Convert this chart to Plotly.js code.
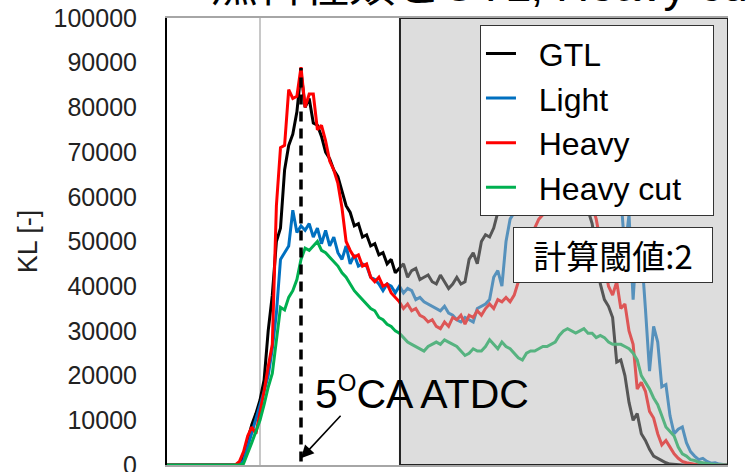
<!DOCTYPE html>
<html>
<head>
<meta charset="utf-8">
<script src="https://cdn.plot.ly/plotly-3.0.1.min.js"></script>
<style>
  html, body { margin: 0; padding: 0; background: #ffffff; }
  #chart { width: 748px; height: 472px; }
</style>
</head>
<body>
<div id="chart"></div>
<script>
// Crank angle [deg ATDC]
const crankAngle = [-12,
  -3, -2.5, -2, -1.5, -1, -0.5, 0, 0.5, 1, 1.5, 2, 2.5, 3, 3.5, 4, 4.5, 5, 5.5, 6, 6.5,
  7, 7.5, 8, 8.5, 9, 9.5, 10, 10.5, 11, 11.5, 12, 12.5, 13, 13.5, 14, 14.5, 15, 15.5, 16, 16.5,
  17, 17.5, 18, 18.5, 19, 19.5, 20, 20.5, 21, 21.5, 22, 22.5, 23, 23.5, 24, 24.5, 25, 25.5, 26, 26.5,
  27, 27.5, 28, 28.5, 29, 29.5, 30, 30.5, 31, 31.5, 32, 32.5, 33, 33.5, 34, 34.5, 35, 35.5, 36, 36.5,
  37, 37.5, 38, 38.5, 39, 39.5, 40, 40.5, 41, 41.5, 42, 42.5, 43, 43.5, 44, 44.5, 45, 45.5, 46, 46.5,
  47, 47.5, 48, 48.5, 49, 49.5, 50, 50.5, 51, 51.5, 52, 52.5, 53, 53.5, 54, 54.5, 55, 55.5, 56, 56.5, 57];

// KL [-] for each fuel
const klGTL = [0,
  0, 500, 1800, 5600, 9000, 11500, 14500, 19000, 30000, 38000, 50000, 53000, 66000, 71500, 74000, 79000, 88000, 80000, 82000, 76500,
  76000, 73500, 70000, 68500, 66000, 64500, 61000, 58000, 56500, 53500, 54000, 51000, 51500, 49000, 49500, 47000, 47500, 45000, 46000, 43000,
  44000, 45000, 42000, 43500, 44000, 41500, 42000, 42500, 41000, 40500, 42500, 41000, 39500, 40500, 42000, 40500, 41000, 46000, 47500, 45000,
  50000, 51500, 51000, 53000, 56500, 58000, 60000, 59000, 62000, 61000, 64000, 63000, 65000, 64000, 66000, 65000, 67000, 66000, 67500, 66000,
  67000, 65500, 66500, 64000, 63000, 60000, 57000, 54000, 48000, 40500, 37000, 35500, 33000, 23000, 23500, 20000, 14000, 10000, 11500, 7000,
  5500, 3500, 2000, 1500, 1000, 500, 200, 100, 0, 0, 0, 0, 0, 0, 0, 0, 0, 0, 0, 0, 0];

const klLight = [0,
  0, 0, 1000, 4000, 7200, 10000, 13000, 16500, 20000, 26000, 34000, 46000, 47500, 49000, 57000, 52000, 53500, 52500, 54000, 51000,
  53000, 49500, 52500, 49000, 51000, 47500, 46000, 49000, 45000, 47000, 44500, 45000, 44500, 42000, 41500, 40500, 39000, 40500, 40000, 38500,
  40000, 38500, 39500, 39000, 37000, 37500, 36500, 36000, 35500, 35000, 34500, 35500, 34000, 33500, 32500, 32000, 33000, 32500, 32000, 35000,
  35500, 36000, 37000, 42000, 43500, 40000, 50000, 55000, 56500, 58000, 60000, 59000, 62000, 61000, 63000, 62000, 64000, 63000, 65000, 64000,
  66000, 65000, 66000, 64500, 65500, 64000, 65000, 63500, 64000, 62000, 63000, 61000, 62000, 60000, 60000, 48000, 56000, 37000, 52000, 48000,
  35000, 21000, 31000, 27500, 17500, 18000, 11000, 7000, 8000, 8500, 5000, 3000, 2000, 1200, 1500, 800, 400, 500, 200, 100, 0];

const klHeavy = [0,
  0, 800, 3000, 6500, 8500, 7000, 11500, 16500, 22000, 27000, 58000, 71000, 71500, 84000, 82000, 82500, 89000, 80000, 83000, 83000,
  75000, 76000, 72500, 68000, 66000, 63000, 57500, 50000, 48000, 46500, 47000, 44500, 45000, 42000, 41000, 42000, 40000, 40500, 38500, 37500,
  36500, 35000, 36000, 34500, 35000, 33500, 33000, 32000, 32500, 31000, 30500, 32000, 31000, 33000, 32500, 33500, 31500, 33500, 33000, 34500,
  33500, 35000, 36000, 35000, 37000, 36500, 37500, 36500, 38000, 41000, 44000, 46000, 50000, 53000, 55000, 56000, 58000, 60000, 59000, 62000,
  61000, 63000, 62000, 63500, 62000, 62500, 61000, 58000, 55000, 50000, 45000, 40000, 38000, 41000, 35000, 36000, 30000, 27000, 17000, 18500,
  16500, 12000, 10500, 7000, 4500, 5500, 4000, 2500, 1500, 800, 500, 300, 100, 0, 0, 0, 0, 0, 0, 0, 0];

const klHeavyCut = [0,
  0, 0, 300, 2500, 5000, 7500, 10000, 13500, 17400, 20500, 28500, 35300, 34700, 37500, 39000, 41500, 46000, 48500, 48000, 49000,
  50000, 48000, 47500, 46500, 45500, 44500, 43000, 42000, 40500, 39000, 38000, 37000, 36000, 35000, 34500, 33000, 32500, 31500, 31000, 30000,
  29500, 28500, 27500, 27000, 26500, 26000, 25500, 26500, 27000, 27500, 27000, 28000, 27500, 27000, 26500, 25500, 24500, 25000, 26000, 25500,
  25500, 26500, 28000, 27000, 26000, 27500, 26500, 26000, 25000, 24000, 23500, 25000, 25500, 25500, 26000, 26500, 26500, 27000, 27500, 29000,
  30000, 30500, 30000, 29500, 30000, 30500, 29500, 29500, 28500, 29000, 28500, 27500, 27000, 27000, 27000, 26500, 26000, 25000, 23500, 20000,
  18500, 17000, 15000, 13500, 11000, 8500, 7500, 6500, 4000, 2500, 2000, 1200, 1000, 600, 500, 300, 200, 100, 0, 0, 0];

const seriesNames = ['GTL', 'Light', 'Heavy', 'Heavy cut'];
const seriesColors = ['#000000', '#0070C0', '#FF0000', '#00B050'];
const seriesValues = [klGTL, klLight, klHeavy, klHeavyCut];

const yTicks = [0, 10000, 20000, 30000, 40000, 50000, 60000, 70000, 80000, 90000, 100000];
const xRange = [-11.34, 57.07];
const tdcCA = 0;          // top dead center
const markerCA = 5;       // 5 deg CA ATDC
const markerTopKL = 88800;
const shadeStartCA = 17.07;
const thresholdLabel = '計算閾値:2';
const markerLabel = '5<sup><span style="font-size:24px">O</span></sup>CA ATDC';
const chartTitle = '燃料種類とGTL, Heavy cut';

const latin = 'Liberation Sans, Arial, Noto Sans CJK JP, sans-serif';
const cjk = 'Noto Sans CJK JP, Liberation Sans, sans-serif';
const nb = '\u00a0';

const traces = seriesNames.map((name, i) => ({
  type: 'scatter',
  mode: 'lines',
  name: nb + nb + name + nb.repeat(name === 'Heavy cut' ? 3 : 0),
  x: crankAngle,
  y: seriesValues[i],
  line: { color: seriesColors[i], width: 3 },
  hoverinfo: 'skip'
}));

const layout = {
  width: 748,
  height: 472,
  margin: { l: 167, r: 20, t: 18, b: 7, pad: 0 },
  paper_bgcolor: '#ffffff',
  plot_bgcolor: '#ffffff',
  showlegend: true,
  legend: {
    x: 0.975, xanchor: 'right',
    y: 0.984, yanchor: 'top',
    bgcolor: '#ffffff',
    bordercolor: '#333333',
    borderwidth: 1,
    font: { family: latin, size: 32, color: '#000000' },
    tracegroupgap: 0
  },
  xaxis: {
    range: xRange,
    showticklabels: false,
    ticks: '',
    showgrid: false,
    zeroline: false,
    showline: true,
    linecolor: '#a6a6a6',
    linewidth: 2,
    mirror: true
  },
  yaxis: {
    range: [0, 100000],
    tickvals: yTicks,
    tickformat: 'd',
    ticks: '',
    ticklabelstandoff: 23,
    ticklabeloverflow: 'allow',
    showgrid: false,
    zeroline: false,
    showline: true,
    linecolor: '#000000',
    linewidth: 2,
    tickfont: { family: latin, size: 25, color: '#222222' },
    title: { text: 'KL [-]', font: { family: latin, size: 27, color: '#222222' }, standoff: 8 }
  },
  shapes: [
    {
      type: 'line', xref: 'x', yref: 'paper',
      x0: tdcCA, x1: tdcCA, y0: 0, y1: 1,
      line: { color: '#c8c8c8', width: 2 }, layer: 'below'
    },
    {
      type: 'rect', xref: 'x', yref: 'y',
      x0: shadeStartCA, x1: xRange[1], y0: 0, y1: 100000,
      fillcolor: 'rgba(182,182,182,0.47)',
      line: { color: '#222222', width: 2 }, layer: 'above'
    },
    {
      type: 'line', xref: 'x', yref: 'y',
      x0: markerCA, x1: markerCA, y0: -3000, y1: markerTopKL,
      line: { color: '#000000', width: 3.5, dash: '10px,7px' }, layer: 'above'
    }
  ],
  annotations: [
    {
      xref: 'paper', yref: 'paper', x: 0.075, y: 1, xanchor: 'left', yanchor: 'bottom',
      yshift: 5, text: chartTitle, showarrow: false,
      font: { family: latin, size: 46, color: '#000000' }
    },
    {
      xref: 'paper', yref: 'paper', x: 0.7959, y: 0.4698, xanchor: 'center', yanchor: 'middle',
      text: thresholdLabel, showarrow: false, width: 198, height: 54,
      bgcolor: '#ffffff', bordercolor: '#333333', borderwidth: 1, borderpad: 0,
      font: { family: cjk, size: 33, color: '#000000' }
    },
    {
      xref: 'paper', yref: 'paper', x: 0.2602, y: 0.16, xanchor: 'left', yanchor: 'middle',
      text: markerLabel, showarrow: false,
      font: { family: latin, size: 41, color: '#000000' }
    },
    {
      xref: 'x', yref: 'y', x: markerCA, y: 1500,
      ax: 41, ay: -44, axref: 'pixel', ayref: 'pixel',
      text: '', showarrow: true, arrowhead: 2, arrowsize: 1.6, arrowwidth: 1.6,
      arrowcolor: '#000000', standoff: 0
    }
  ]
};

Plotly.newPlot('chart', traces, layout, { staticPlot: true, displayModeBar: false });
</script>
</body>
</html>
